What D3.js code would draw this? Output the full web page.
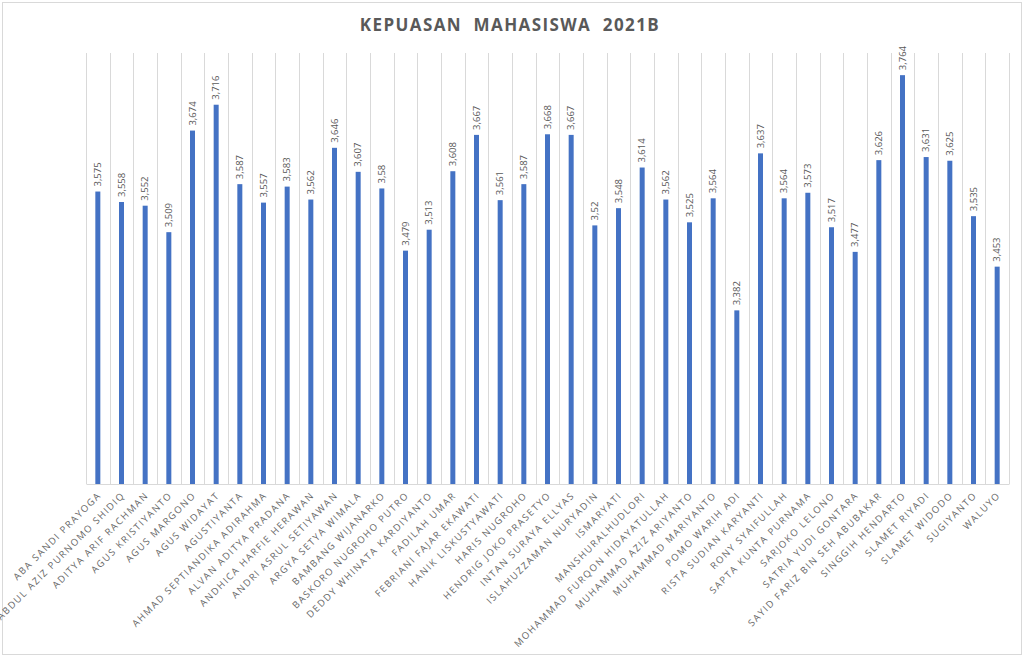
<!DOCTYPE html>
<html>
<head>
<meta charset="utf-8">
<script src="https://cdn.jsdelivr.net/npm/d3@7"></script>
<style>
  body { margin: 0; background: #fff; }
  svg { display: block; font-family: "Open Sans", sans-serif; }
</style>
</head>
<body>
<svg id="chart"></svg>
<script>
// Chart data
var names = [
  "ABA SANDI PRAYOGA", "ABDUL AZIZ PURNOMO SHIDIQ", "ADITYA ARIF RACHMAN", "AGUS KRISTIYANTO",
  "AGUS MARGONO", "AGUS WIDAYAT", "AGUSTIYANTA", "AHMAD SEPTIANDIKA ADIRAHMA",
  "ALVAN ADITYA PRADANA", "ANDHICA HARFIE HERAWAN", "ANDRI ASRUL SETIYAWAN", "ARGYA SETYA WIMALA",
  "BAMBANG WIJANARKO", "BASKORO NUGROHO PUTRO", "DEDDY WHINATA KARDIYANTO", "FADILAH UMAR",
  "FEBRIANI FAJAR EKAWATI", "HANIK LISKUSTYAWATI", "HARIS NUGROHO", "HENDRIG JOKO PRASETYO",
  "INTAN SURAYA ELLYAS", "ISLAHUZZAMAN NURYADIN", "ISMARYATI", "MANSHURALHUDLORI",
  "MOHAMMAD FURQON HIDAYATULLAH", "MUHAMMAD AZIZ ARIYANTO", "MUHAMMAD MARIYANTO", "POMO WARIH ADI",
  "RISTA SUDIAN KARYANTI", "RONY SYAIFULLAH", "SAPTA KUNTA PURNAMA", "SARJOKO LELONO",
  "SATRIA YUDI GONTARA", "SAYID FARIZ BIN SEH ABUBAKAR", "SINGGIH HENDARTO", "SLAMET RIYADI",
  "SLAMET WIDODO", "SUGIYANTO", "WALUYO"
];
var scores = [
  3.575, 3.558, 3.552, 3.509, 3.674, 3.716, 3.587, 3.557,
  3.583, 3.562, 3.646, 3.607, 3.58, 3.479, 3.513, 3.608,
  3.667, 3.561, 3.587, 3.668, 3.667, 3.52, 3.548, 3.614,
  3.562, 3.525, 3.564, 3.382, 3.637, 3.564, 3.573, 3.517,
  3.477, 3.626, 3.764, 3.631, 3.625, 3.535, 3.453
];
var yDomain = [3.1, 3.8];
var title = "KEPUASAN  MAHASISWA  2021B";

var width = 1024, height = 659;
var margin = {top: 53, right: 15, bottom: 175, left: 86};
var innerW = width - margin.left - margin.right;
var innerH = height - margin.top - margin.bottom;

var svg = d3.select("#chart")
    .attr("width", width)
    .attr("height", height);

// Chart area border
svg.append("rect")
    .attr("x", 2.5).attr("y", 2.5)
    .attr("width", 1019).attr("height", 652)
    .attr("fill", "#fff")
    .attr("stroke", "#d9d9d9");

svg.append("text")
    .attr("x", 510).attr("y", 31)
    .attr("text-anchor", "middle")
    .attr("fill", "#595959")
    .style("font-size", "17px")
    .style("font-weight", "bold")
    .style("letter-spacing", "1.4px")
    .style("white-space", "pre")
    .text(title);

var g = svg.append("g")
    .attr("transform", "translate(" + margin.left + "," + margin.top + ")");

var x = d3.scaleBand()
    .domain(names)
    .range([0, innerW]);

var y = d3.scaleLinear()
    .domain(yDomain)
    .range([innerH, 0]);

// Vertical gridlines at category boundaries
var bounds = names.map(function (d) { return x(d); }).concat([innerW]);
g.selectAll(".grid")
    .data(bounds)
    .enter()
    .append("line")
    .attr("class", "grid")
    .attr("x1", function (d) { return Math.round(d) + 0.5; })
    .attr("x2", function (d) { return Math.round(d) + 0.5; })
    .attr("y1", 0)
    .attr("y2", innerH)
    .attr("stroke", "#d9d9d9");

// Baseline axis
var xAxis = d3.axisBottom(x).tickSize(0).tickPadding(0).tickFormat("");
g.append("g")
    .attr("transform", "translate(0," + innerH + ")")
    .call(xAxis)
    .select(".domain")
    .attr("stroke", "#d9d9d9");

var barW = 5;
g.selectAll(".bar")
    .data(scores)
    .enter()
    .append("rect")
    .attr("class", "bar")
    .attr("x", function (d, i) { return x(names[i]) + x.bandwidth() / 2 - barW / 2; })
    .attr("y", function (d) { return y(d); })
    .attr("width", barW)
    .attr("height", function (d) { return innerH - y(d); })
    .attr("fill", "#4472c4");

// Value labels, rotated
var fmt = function (d) { return String(d).replace(".", ","); };
g.selectAll(".val")
    .data(scores)
    .enter()
    .append("text")
    .attr("class", "val")
    .attr("transform", function (d, i) {
        var cx = x(names[i]) + x.bandwidth() / 2 + 3;
        return "translate(" + cx + "," + (y(d) - 5) + ") rotate(-90)";
    })
    .attr("fill", "#595959")
    .style("font-size", "9.5px")
    .text(fmt);

// Category labels, rotated -45
g.selectAll(".cat")
    .data(names)
    .enter()
    .append("text")
    .attr("class", "cat")
    .attr("transform", function (d) {
        var cx = x(d) + x.bandwidth() / 2 + 4;
        return "translate(" + cx + "," + (innerH + 12) + ") rotate(-45)";
    })
    .attr("text-anchor", "end")
    .attr("fill", "#666666")
    .style("font-size", "9.5px")
    .style("letter-spacing", "1.5px")
    .text(function (d) { return d; });
</script>
</body>
</html>
